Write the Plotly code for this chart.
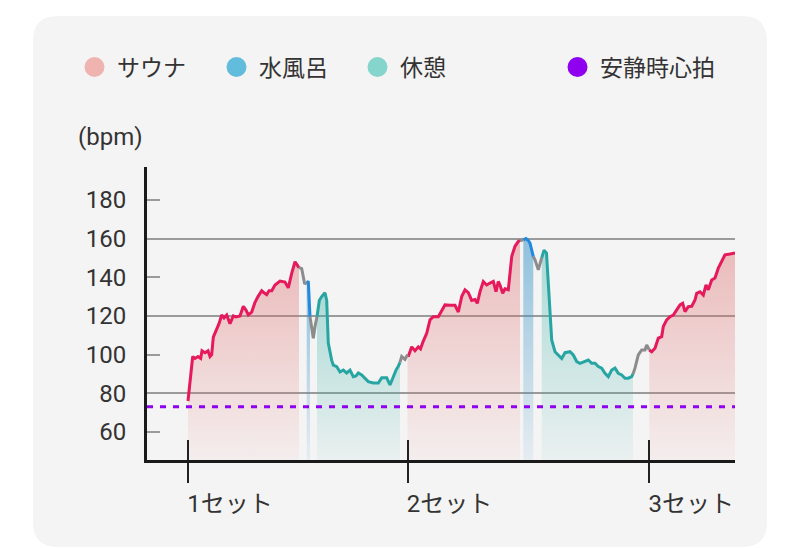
import plotly.graph_objects as go

# ---------------- data ----------------
time_min = [
    0.00, 0.20, 0.47, 0.70, 1.00, 1.27, 1.40, 1.70, 2.00, 2.20, 2.37, 2.53, 2.87, 3.10, 3.37, 3.60,
    3.87, 4.20, 4.53, 4.80, 5.20, 5.53, 5.80, 6.03, 6.37, 6.70, 7.00, 7.37, 7.60, 7.87, 8.10, 8.37,
    8.70, 9.20, 9.70, 10.03, 10.37, 10.70, 11.03, 11.10,
    11.37, 11.65, 11.87,
    12.03, 12.20,
    12.37, 12.53, 12.70, 12.90,
    13.13, 13.37, 13.70, 13.87, 14.03, 14.37, 14.53, 14.87, 15.03, 15.20, 15.53, 15.87, 16.20, 16.53,
    16.80, 17.03, 17.37, 17.70, 18.03, 18.53, 19.03, 19.37, 19.87, 20.20, 20.53, 20.80, 21.03, 21.20,
    21.37, 21.70, 21.95,
    22.03, 22.37, 22.70, 23.03, 23.25, 23.53, 23.87, 24.20, 24.53, 25.03, 25.37, 25.70, 26.20, 26.70,
    27.03, 27.37, 27.70, 28.03, 28.37, 28.70, 28.93, 29.20, 29.53, 29.87, 30.20, 30.53, 30.80, 31.03,
    31.20, 31.47, 31.70, 32.03, 32.37, 32.70, 33.03, 33.20,
    33.53,
    33.80, 34.03, 34.20, 34.53,
    34.70, 35.03, 35.37,
    35.60, 35.85, 36.03, 36.20, 36.37, 36.70, 37.03, 37.37, 37.70, 38.20, 38.53, 38.87, 39.20, 39.70,
    40.03, 40.37, 40.70, 41.03, 41.37, 41.70, 42.03, 42.37, 42.70, 43.03, 43.37, 43.70, 44.03, 44.37,
    44.50,
    44.70, 45.03, 45.37, 45.70, 45.87, 46.13,
    46.37, 46.70, 47.03, 47.37, 47.53, 47.87, 48.20, 48.53, 48.87, 49.20, 49.47, 49.70, 50.03, 50.37,
    50.70, 50.87, 51.20, 51.53, 51.80, 52.03, 52.37, 52.70, 53.03, 53.37, 53.70, 54.20, 54.70,
]
heart_rate = [
    76, 87, 99, 98, 99, 98, 102, 101, 102, 99, 100, 109, 113, 116, 120.5, 119,
    120.5, 116, 120, 119.5, 120, 125, 123, 120.5, 122, 127, 130, 133, 132, 131, 133, 133,
    136, 138, 137.5, 134.5, 142, 148, 145.5, 145,
    144.5, 137, 136.6,
    138, 119.6,
    113, 108.5, 114.5, 119.6,
    128, 130, 132, 128, 106, 97, 94.6, 93.8, 92, 91, 92, 90.5, 92, 88.6,
    89, 90.5, 89.5, 88, 86, 85.3, 85.3, 88, 88, 84.3, 89, 92, 94, 96,
    99, 97.5, 100,
    99, 104, 102, 104, 103, 107, 111, 118, 119.6, 119.6, 123, 125.7, 125.5, 125.5,
    122, 130, 133.5, 132, 128, 128.5, 126.5, 132.5, 137.8, 136, 137, 137.8, 132.5, 137.8,
    136, 131.7, 134, 133.5, 150.7, 156, 158.5, 159,
    159.3,
    160, 159, 157.6, 150.7,
    149, 143.8, 150,
    154, 152.5, 135, 118, 107.6, 101.5, 99.8, 98, 101, 101.5, 99.8, 96.4, 95.5, 96.4,
    97.2, 95.5, 95.5, 93.8, 93, 90.3, 88.6, 92, 93, 90.3, 89.5, 87.8, 87.8, 88.6,
    90,
    93, 99.8, 102.4, 102.4, 105, 102.4,
    101.5, 103.3, 108.5, 109.3, 114.5, 118, 119.6, 120.4, 123.1, 125.7, 126.5, 122.2, 124.8, 125,
    128.3, 131.7, 132.5, 130.8, 136, 133.5, 138.6, 139.6, 144.7, 148.1, 151.6, 152, 152.5,
]
phase_names = ["サウナ", "水風呂", "休憩", "サウナ", "水風呂", "休憩", "サウナ"]
phase_start = [0.00, 11.87, 12.90, 21.95, 33.53, 35.37, 46.13]
phase_end = [11.10, 12.20, 21.20, 33.20, 34.53, 44.50, 54.70]
set_labels = ["1セット", "2セット", "3セット"]
resting_hr = 73
resting_label = "安静時心拍"
y_tick_vals = [60, 80, 100, 120, 140, 160, 180]
y_grid_vals = [80, 120, 160]
x_range = [-4.1, 54.7]
y_range = [45.5, 197]

# ---------------- styles ----------------
W, H = 800, 548
ML, MR, MT, MB = 147, 65, 167, 88
PW, PH = W - ML - MR, H - MT - MB
FONT = "Roboto, 'Noto Sans CJK JP', sans-serif"
TXT = "#333333"

styles = {
    "サウナ": dict(line="#e5195c", legend="#efb3b0",
                 fill=[[0, "rgba(225,110,110,0.05)"], [1, "rgba(220,110,110,0.42)"]]),
    "水風呂": dict(line="#2389dc", legend="#62bcdc",
                 fill=[[0, "rgba(60,150,200,0.08)"], [1, "rgba(60,150,200,0.55)"]]),
    "休憩": dict(line="#27a5a3", legend="#85d5cc",
               fill=[[0, "rgba(60,180,170,0.06)"], [1, "rgba(60,180,170,0.40)"]]),
}
GAP_COLOR = "#8c8c8c"
REST_COLOR = "#8f00f0"


def px_x(px):
    return (px - ML) / PW


def px_y(py):
    return (H - MB - py) / PH


fig = go.Figure()

# phase segments with gradient fill
for name, s, e in zip(phase_names, phase_start, phase_end):
    xs = [t for t in time_min if s <= t <= e]
    ys = [hr for t, hr in zip(time_min, heart_rate) if s <= t <= e]
    st = styles[name]
    fig.add_trace(go.Scatter(
        x=xs, y=ys, mode="lines", showlegend=False, hoverinfo="skip",
        line=dict(color=st["line"], width=3),
        fill="tozeroy",
        fillgradient=dict(type="vertical", colorscale=st["fill"], start=y_range[0], stop=max(ys)),
    ))

# grey transitions between phases
for i in range(len(phase_names) - 1):
    s, e = phase_end[i], phase_start[i + 1]
    xs = [t for t in time_min if s <= t <= e]
    ys = [hr for t, hr in zip(time_min, heart_rate) if s <= t <= e]
    fig.add_trace(go.Scatter(x=xs, y=ys, mode="lines", showlegend=False, hoverinfo="skip",
                             line=dict(color=GAP_COLOR, width=3)))

# resting heart rate (on overlay axes, drawn above fills)
fig.add_trace(go.Scatter(x=x_range, y=[resting_hr, resting_hr], mode="lines",
                         xaxis="x2", yaxis="y2", showlegend=False, hoverinfo="skip",
                         line=dict(color=REST_COLOR, width=3, dash="6px,7px")))

# legend entries
legend_items = [("サウナ", styles["サウナ"]["legend"]), ("水風呂", styles["水風呂"]["legend"]),
                ("休憩", styles["休憩"]["legend"]), (resting_label, REST_COLOR)]
legend_dot_px = [91, 233, 374, 574]
legend_ids = ["legend", "legend2", "legend3", "legend4"]
layout_legends = {}
for (lab, col), dpx, lid in zip(legend_items, legend_dot_px, legend_ids):
    fig.add_trace(go.Scatter(x=[None], y=[None], mode="markers", name=lab, legend=lid,
                             marker=dict(size=16, color=col, line=dict(width=4, color=col))))
    layout_legends[lid] = dict(orientation="h", x=px_x(dpx - 19), xanchor="left",
                               y=px_y(67), yanchor="middle", bgcolor="rgba(0,0,0,0)",
                               font=dict(family=FONT, size=23, color=TXT), itemwidth=35)

set_starts = [s for n, s in zip(phase_names, phase_start) if n == "サウナ"]

# card background
cx0, cy0, cx1, cy1, r = 33, 16, 767, 547, 25


def P(a, b):
    return f"{px_x(a):.5f},{px_y(b):.5f}"


card = (f"M {P(cx0 + r, cy0)} L {P(cx1 - r, cy0)} Q {P(cx1, cy0)} {P(cx1, cy0 + r)} "
        f"L {P(cx1, cy1 - r)} Q {P(cx1, cy1)} {P(cx1 - r, cy1)} L {P(cx0 + r, cy1)} "
        f"Q {P(cx0, cy1)} {P(cx0, cy1 - r)} L {P(cx0, cy0 + r)} Q {P(cx0, cy0)} {P(cx0 + r, cy0)} Z")

fig.update_layout(
    width=W, height=H,
    margin=dict(l=ML, r=MR, t=MT, b=MB),
    paper_bgcolor="white", plot_bgcolor="rgba(0,0,0,0)",
    font=dict(family=FONT, color=TXT),
    shapes=[dict(type="path", path=card, xref="paper", yref="paper", layer="below",
                 fillcolor="#f5f4f4", line=dict(width=0))],
    xaxis=dict(range=x_range, showgrid=False, zeroline=False, showline=True,
               linecolor="#1a1a1a", linewidth=3, tickmode="array", tickvals=set_starts,
               ticktext=set_labels, ticks="outside", ticklen=20, tickwidth=2, tickcolor="#222",
               ticklabelshift=42, ticklabelstandoff=0,
               tickfont=dict(family=FONT, size=24, color=TXT)),
    xaxis2=dict(range=x_range, overlaying="x", anchor="y2", showgrid=False, zeroline=False,
                showline=False, tickmode="array", tickvals=set_starts, ticks="inside",
                ticklen=20, tickwidth=2, tickcolor="#222", showticklabels=False, side="bottom"),
    yaxis=dict(range=y_range, showgrid=False, zeroline=False, showline=True,
               linecolor="#1a1a1a", linewidth=3, tickmode="array", tickvals=y_tick_vals,
               ticks="inside", ticklen=13, tickwidth=2, tickcolor="#9a9a9a",
               ticklabelstandoff=13, tickfont=dict(family=FONT, size=24, color=TXT)),
    yaxis2=dict(range=y_range, overlaying="y", anchor="x2", showgrid=True, gridcolor="#9a9a9a",
                gridwidth=2, zeroline=False, showline=False, tickmode="array",
                tickvals=y_grid_vals, ticks="", showticklabels=False),
    annotations=[dict(text="(bpm)", xref="paper", yref="paper", x=px_x(76), y=px_y(137),
                      xanchor="left", yanchor="middle", showarrow=False,
                      font=dict(family=FONT, size=24, color=TXT))],
    **layout_legends,
)

fig.write_html("out.html")
